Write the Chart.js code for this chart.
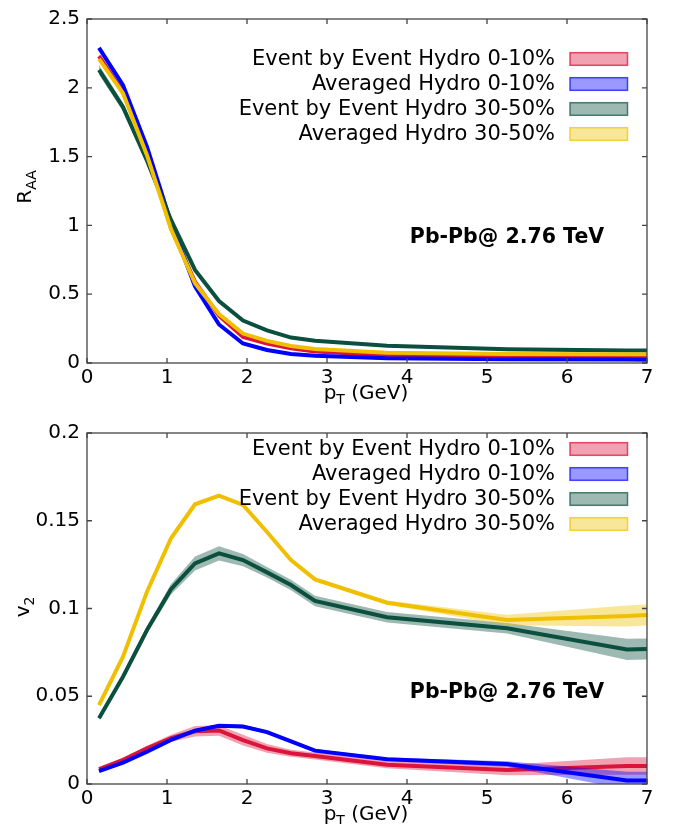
<!DOCTYPE html>
<html>
<head>
<meta charset="utf-8">
<script src="https://cdn.jsdelivr.net/npm/chart.js@4.4.1/dist/chart.umd.min.js"></script>
<style>
  body { margin: 0; background: #fff; }
  canvas { display: block; }
</style>
</head>
<body>
<canvas id="raa" width="678" height="410"></canvas>
<canvas id="v2" width="678" height="414"></canvas>
<script>
// pT bin centres (GeV)
const pT = [0.15, 0.45, 0.75, 1.05, 1.35, 1.65, 1.95, 2.25, 2.55, 2.85, 3.75, 5.25, 6.75, 7.0];

const seriesNames = [
    'Event by Event Hydro 0-10%',
    'Averaged Hydro 0-10%',
    'Event by Event Hydro 30-50%',
    'Averaged Hydro 30-50%'
];

// R_AA
const raaEbe010 = [2.23, 1.97, 1.53, 0.98, 0.59, 0.344, 0.19, 0.142, 0.107, 0.083, 0.057, 0.052, 0.047, 0.047];
const raaAvg010 = [2.29, 2.02, 1.57, 1.02, 0.557, 0.28, 0.142, 0.095, 0.066, 0.052, 0.035, 0.028, 0.025, 0.024];
const raaEbe3050 = [2.13, 1.86, 1.47, 1.04, 0.677, 0.45, 0.308, 0.237, 0.185, 0.161, 0.125, 0.1, 0.09, 0.09];
const raaAvg3050 = [2.21, 1.96, 1.51, 0.973, 0.58, 0.356, 0.214, 0.161, 0.123, 0.102, 0.075, 0.066, 0.064, 0.064];

const raaErrEbe010 = [0.015, 0.015, 0.012, 0.01, 0.008, 0.006, 0.005, 0.004, 0.004, 0.004, 0.004, 0.004, 0.004, 0.004];
const raaErrAvg010 = [0.005, 0.005, 0.005, 0.004, 0.003, 0.003, 0.002, 0.002, 0.002, 0.002, 0.002, 0.002, 0.002, 0.002];
const raaErrEbe3050 = [0.035, 0.03, 0.02, 0.012, 0.008, 0.006, 0.005, 0.004, 0.004, 0.004, 0.004, 0.004, 0.004, 0.004];
const raaErrAvg3050 = [0.005, 0.005, 0.005, 0.004, 0.003, 0.003, 0.002, 0.002, 0.002, 0.002, 0.002, 0.002, 0.002, 0.002];

// v2
const v2Ebe010 = [0.0085, 0.0138, 0.0203, 0.0261, 0.030, 0.0305, 0.025, 0.0203, 0.0175, 0.016, 0.011, 0.008, 0.0103, 0.0103];
const v2Avg010 = [0.0074, 0.0122, 0.0184, 0.0251, 0.0304, 0.0332, 0.0328, 0.0296, 0.0243, 0.019, 0.0141, 0.0114, 0.002, 0.002];
const v2Ebe3050 = [0.0374, 0.0611, 0.0877, 0.111, 0.1257, 0.1314, 0.1276, 0.1206, 0.1134, 0.1043, 0.095, 0.0887, 0.0767, 0.0769];
const v2Avg3050 = [0.045, 0.0725, 0.1096, 0.140, 0.1594, 0.1643, 0.159, 0.1436, 0.1276, 0.1166, 0.1033, 0.0934, 0.0957, 0.0963];

const v2ErrEbe010 = [0.0008, 0.001, 0.0015, 0.002, 0.003, 0.003, 0.003, 0.0025, 0.002, 0.002, 0.002, 0.003, 0.005, 0.005];
const v2ErrAvg010 = [0.0005, 0.0005, 0.0007, 0.0008, 0.001, 0.001, 0.001, 0.001, 0.001, 0.001, 0.001, 0.0015, 0.005, 0.005];
const v2ErrEbe3050 = [0.001, 0.0015, 0.002, 0.003, 0.004, 0.004, 0.0035, 0.003, 0.003, 0.003, 0.003, 0.003, 0.006, 0.006];
const v2ErrAvg3050 = [0.0008, 0.0008, 0.001, 0.001, 0.001, 0.001, 0.001, 0.001, 0.001, 0.0012, 0.0012, 0.003, 0.006, 0.006];

const xTicks = [0, 1, 2, 3, 4, 5, 6, 7];

const LINE_COLORS = ['#dc143c', '#0000ff', '#0b4f3f', '#f0c000'];
const BAND_COLORS = ['rgba(220, 20, 60, 0.4)', 'rgba(0, 0, 255, 0.4)', 'rgba(11, 79, 63, 0.4)', 'rgba(240, 196, 0, 0.4)'];
const BOX_BORDERS = ['rgba(220, 20, 60, 0.75)', 'rgba(0, 0, 255, 0.7)', 'rgba(11, 79, 63, 0.7)', 'rgba(240, 196, 0, 0.75)'];
const FONT = "'DejaVu Sans', sans-serif";

function points(values) {
    return values.map((v, i) => ({x: pT[i], y: v}));
}

function buildDatasets(means, errs) {
    let datasets = [];
    means.forEach((mean, i) => {
        const lower = mean.map((v, j) => v - errs[i][j]);
        const upper = mean.map((v, j) => v + errs[i][j]);
        datasets.push({data: points(lower), borderWidth: 0, pointRadius: 0, fill: false, order: (3 - i) * 3 + 2});
        datasets.push({data: points(upper), borderWidth: 0, pointRadius: 0, fill: '-1',
            backgroundColor: BAND_COLORS[i], order: (3 - i) * 3 + 1});
        datasets.push({label: seriesNames[i], data: points(mean), borderColor: LINE_COLORS[i], borderWidth: 4,
            pointRadius: 0, fill: false, order: (3 - i) * 3, borderJoinStyle: 'miter'});
    });
    return datasets;
}

function drawSubLabel(ctx, x, y, main, sub, rest, rotate) {
    ctx.save();
    ctx.translate(x, y);
    if (rotate) ctx.rotate(-Math.PI / 2);
    ctx.fillStyle = '#000';
    ctx.textBaseline = 'alphabetic';
    ctx.textAlign = 'left';
    const big = '20px ' + FONT, small = '14px ' + FONT;
    ctx.font = big;
    const w1 = ctx.measureText(main).width;
    const w3 = rest ? ctx.measureText(rest).width : 0;
    ctx.font = small;
    const w2 = ctx.measureText(sub).width;
    let cx = -(w1 + w2 + w3) / 2;
    ctx.font = big;
    ctx.fillText(main, cx, 7);
    ctx.font = small;
    ctx.fillText(sub, cx + w1, 12);
    if (rest) {
        ctx.font = big;
        ctx.fillText(rest, cx + w1 + w2, 7);
    }
    ctx.restore();
}

const framePlugin = {
    id: 'frame',
    afterDraw(chart, args, opts) {
        const ctx = chart.ctx;
        const a = chart.chartArea;
        const xs = chart.scales.x, ys = chart.scales.y;
        ctx.save();
        ctx.strokeStyle = '#444';
        ctx.lineWidth = 1.3;
        ctx.strokeRect(a.left, a.top, a.right - a.left, a.bottom - a.top);
        ctx.beginPath();
        xTicks.forEach(t => {
            const px = xs.getPixelForValue(t);
            ctx.moveTo(px, a.bottom); ctx.lineTo(px, a.bottom - 5);
            ctx.moveTo(px, a.top); ctx.lineTo(px, a.top + 5);
        });
        opts.yTicks.forEach(t => {
            const py = ys.getPixelForValue(t);
            ctx.moveTo(a.left, py); ctx.lineTo(a.left + 5, py);
            ctx.moveTo(a.right, py); ctx.lineTo(a.right - 5, py);
        });
        ctx.stroke();

        // legend: right-aligned text, patch on the right
        ctx.font = '21px ' + FONT;
        ctx.textAlign = 'right';
        ctx.textBaseline = 'middle';
        seriesNames.forEach((name, i) => {
            const cy = opts.legendTop + i * 25;
            ctx.fillStyle = '#000';
            ctx.fillText(name, 555, cy + 1);
            ctx.fillStyle = BAND_COLORS[i];
            ctx.fillRect(570, cy - 6.3, 57.5, 12.6);
            ctx.strokeStyle = BOX_BORDERS[i];
            ctx.lineWidth = 1.5;
            ctx.strokeRect(570, cy - 6.3, 57.5, 12.6);
        });

        ctx.font = 'bold 20.5px ' + FONT;
        ctx.textAlign = 'center';
        ctx.fillStyle = '#000';
        ctx.fillText('Pb-Pb@ 2.76 TeV', 507, opts.noteY);

        drawSubLabel(ctx, 366, opts.xLabelY, 'p', 'T', ' (GeV)', false);
        drawSubLabel(ctx, opts.yLabelX, opts.yLabelY, opts.yMain, opts.ySub, '', true);
        ctx.restore();
    }
};

function makeChart(id, means, errs, yMax, yStep, yTicks, padTop, xHeight, frameOpts) {
    frameOpts.yTicks = yTicks;
    return new Chart(document.getElementById(id).getContext('2d'), {
        type: 'line',
        data: {datasets: buildDatasets(means, errs)},
        options: {
            responsive: false,
            animation: false,
            events: [],
            layout: {padding: {left: 0, right: 31, top: padTop, bottom: 0}},
            scales: {
                x: {
                    type: 'linear', min: 0, max: 7,
                    grid: {display: false, drawTicks: false},
                    border: {display: false},
                    afterFit: scale => { scale.height = xHeight; },
                    afterBuildTicks: scale => { scale.ticks = xTicks.map(v => ({value: v})); },
                    ticks: {font: {family: FONT, size: 20}, color: '#000', padding: 3, maxRotation: 0}
                },
                y: {
                    type: 'linear', min: 0, max: yMax,
                    grid: {display: false, drawTicks: false},
                    border: {display: false},
                    afterFit: scale => { scale.width = 87; },
                    afterBuildTicks: scale => { scale.ticks = yTicks.map(v => ({value: v})); },
                    ticks: {
                        font: {family: FONT, size: 20}, color: '#000', padding: 7,
                        callback: value => String(parseFloat(value.toFixed(4)))
                    }
                }
            },
            plugins: {
                legend: {display: false},
                tooltip: {enabled: false},
                filler: {propagate: false},
                frame: frameOpts
            }
        },
        plugins: [framePlugin]
    });
}

makeChart('raa',
    [raaEbe010, raaAvg010, raaEbe3050, raaAvg3050],
    [raaErrEbe010, raaErrAvg010, raaErrEbe3050, raaErrAvg3050],
    2.5, 0.5, [0, 0.5, 1, 1.5, 2, 2.5], 12, 47,
    {legendTop: 59, noteY: 238, xLabelY: 392, yLabelX: 24, yLabelY: 187, yMain: 'R', ySub: 'AA'});

makeChart('v2',
    [v2Ebe010, v2Avg010, v2Ebe3050, v2Avg3050],
    [v2ErrEbe010, v2ErrAvg010, v2ErrEbe3050, v2ErrAvg3050],
    0.2, 0.05, [0, 0.05, 0.1, 0.15, 0.2], 23, 40,
    {legendTop: 39, noteY: 283, xLabelY: 403, yLabelX: 22, yLabelY: 197, yMain: 'v', ySub: '2'});
</script>
</body>
</html>
